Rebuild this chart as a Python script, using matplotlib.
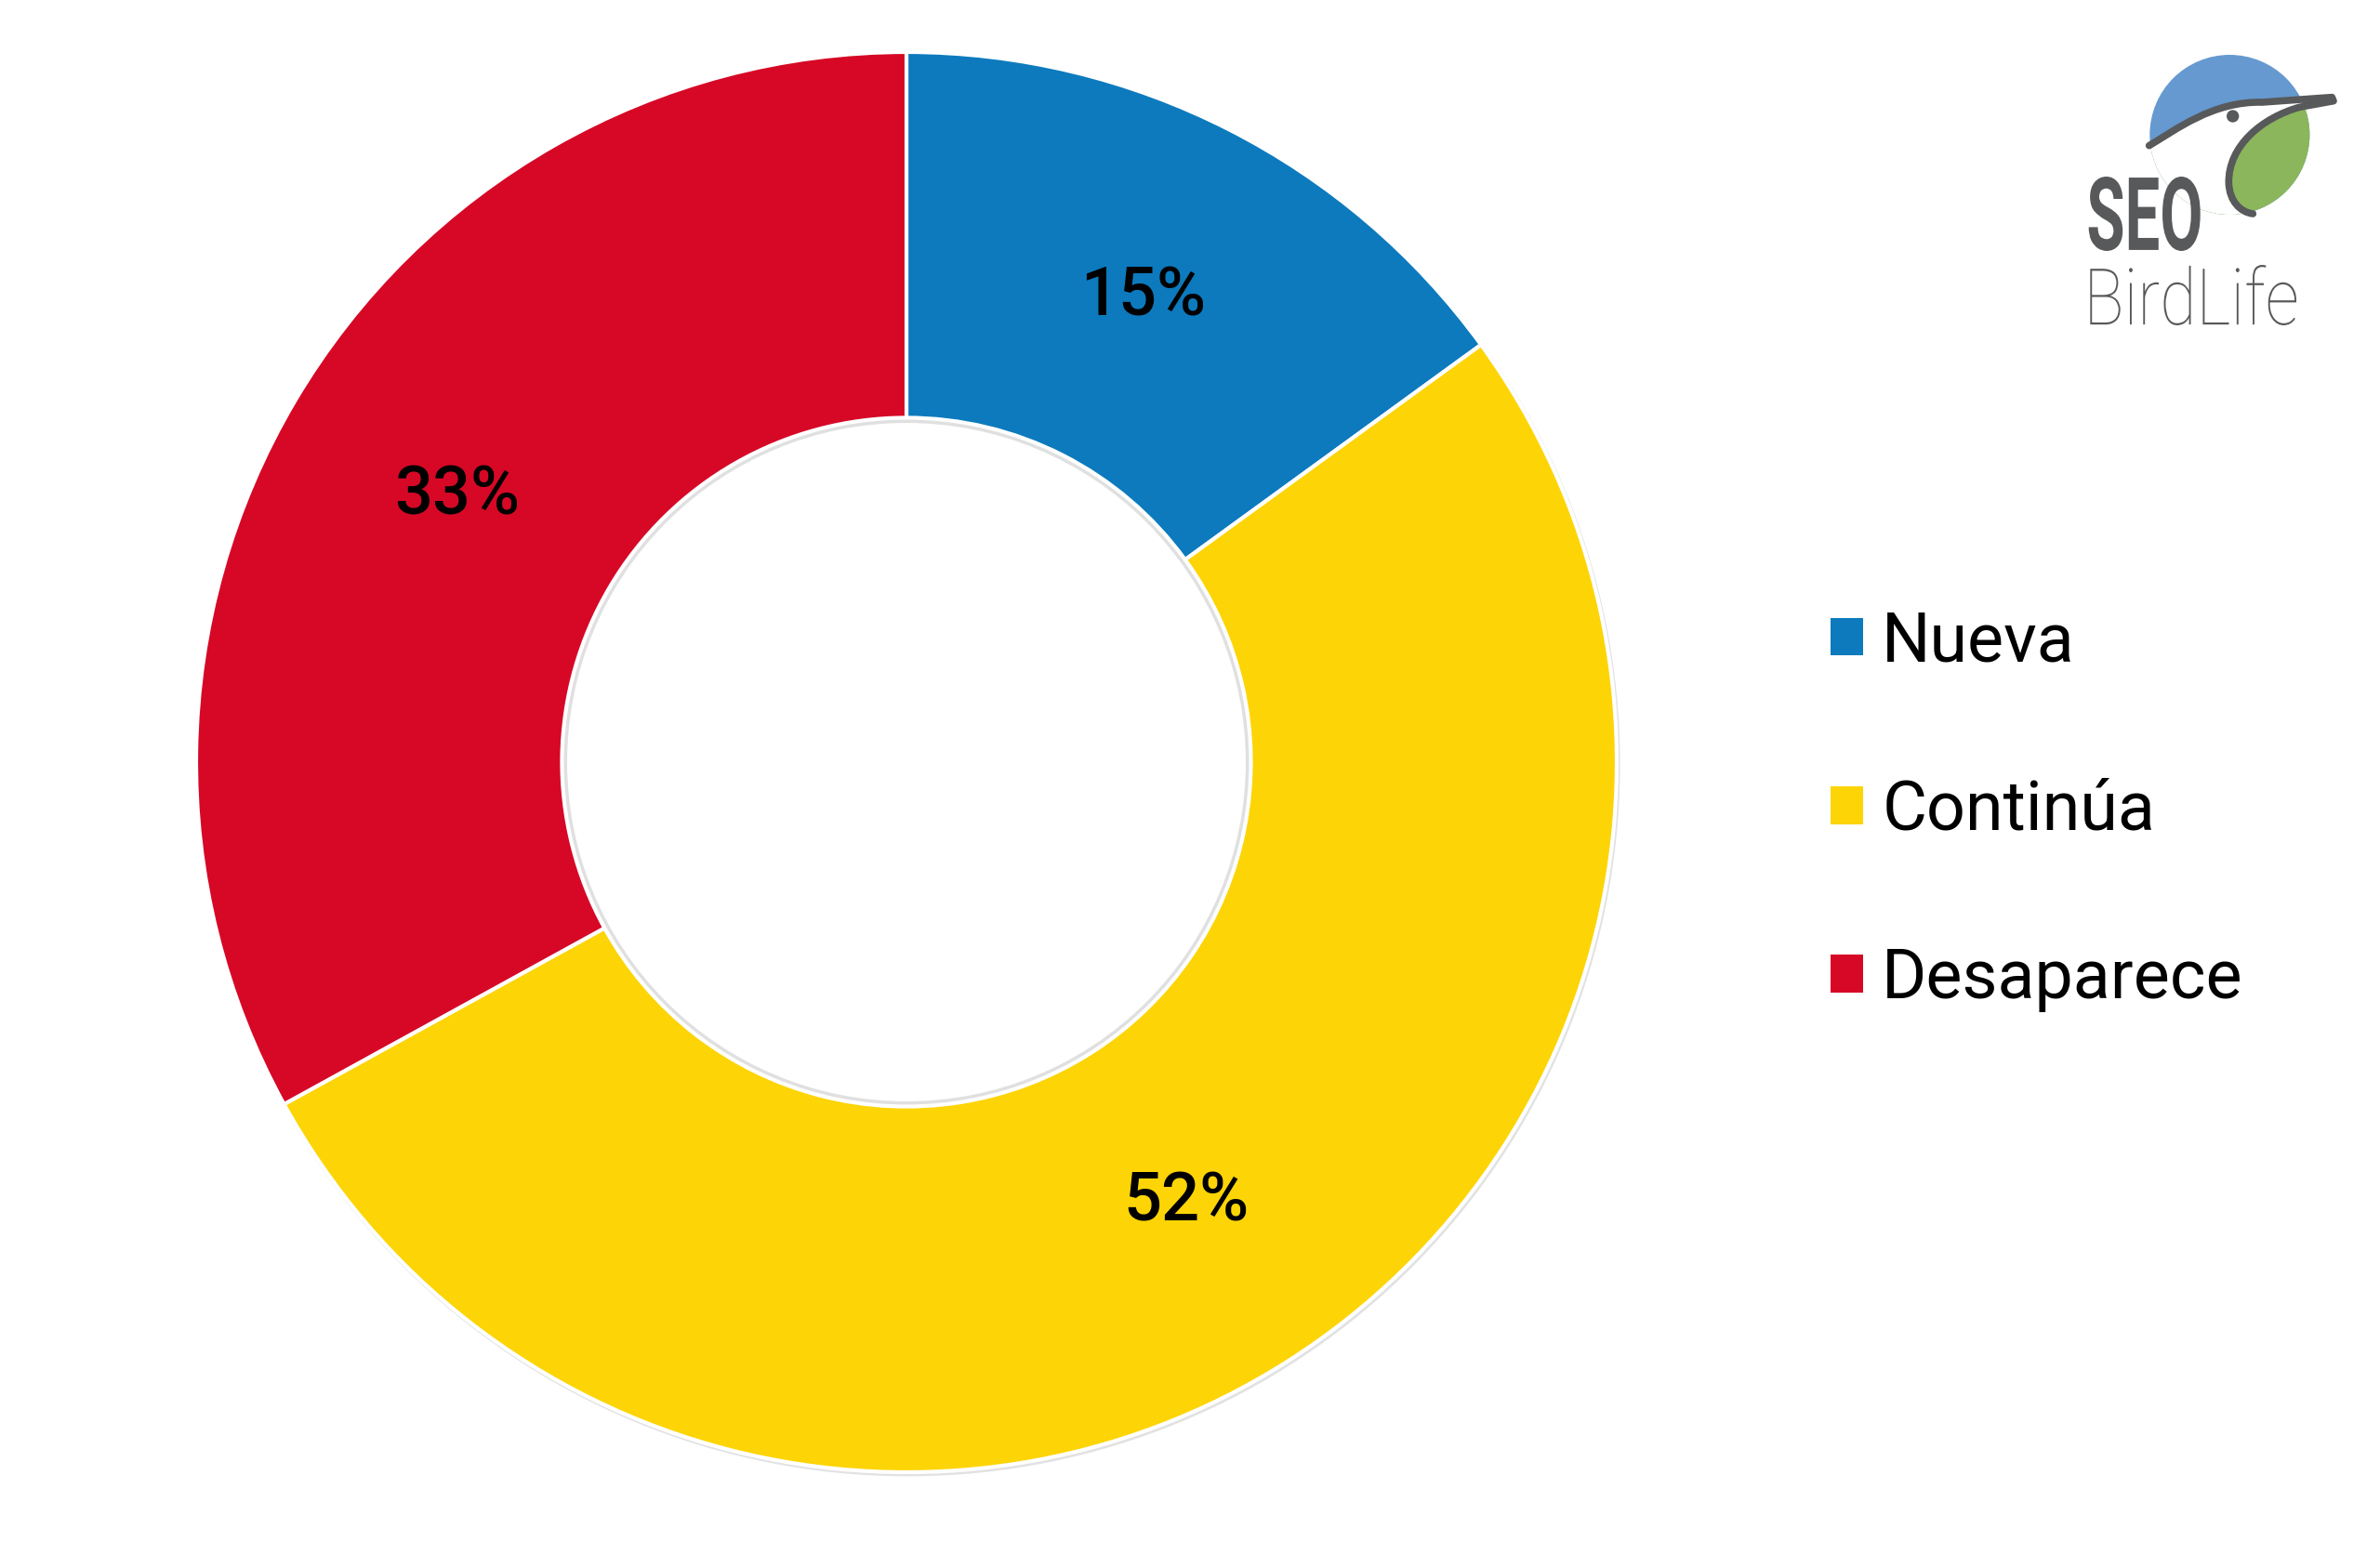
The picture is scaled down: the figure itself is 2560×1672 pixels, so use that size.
import matplotlib
matplotlib.use("Agg")
import matplotlib.pyplot as plt
from matplotlib.patches import Circle, Polygon, PathPatch, Patch
from matplotlib.path import Path
from matplotlib.textpath import TextPath
from matplotlib.font_manager import FontProperties
from matplotlib.transforms import Affine2D

# ---------------- data ----------------
categories = ["Nueva", "Continúa", "Desaparece"]
values = [15, 52, 33]
colors = ["#0c7abd", "#fdd405", "#d60826"]

plt.rcParams['font.family'] = ['Roboto', 'DejaVu Sans']

W, H = 2560, 1672
fig = plt.figure(figsize=(W / 100, H / 100), dpi=100)
fig.patch.set_facecolor("white")

# ---------------- donut ----------------
cx, cy, R = 975, 820, 764
m = 1.02
ax = fig.add_axes([(cx - R * m) / W, (H - cy - R * m) / H, 2 * R * m / W, 2 * R * m / H])
ax.set_xlim(-m, m)
ax.set_ylim(-m, m)
ax.axis("off")

inner = 0.485
# subtle shadow rings
ax.add_patch(Circle((0.002, -0.003), 1.0, facecolor="none", edgecolor="#e2e2e2", lw=3, zorder=0))
wedges, texts, autotexts = ax.pie(
    values, colors=colors, startangle=90, counterclock=False, radius=1,
    wedgeprops=dict(width=1 - inner, edgecolor="white", linewidth=3),
    autopct=lambda p: f"{p:.0f}%", pctdistance=0.735,
    textprops=dict(fontsize=52, color="black", fontweight="medium"))
ax.add_patch(Circle((0.0, 0.0), inner - 0.005, facecolor="none", edgecolor="#e0e0e0", lw=2.5, zorder=5))
ax.set_xlim(-m, m)
ax.set_ylim(-m, m)

# ---------------- legend ----------------
handles = [Patch(facecolor=c, edgecolor="none") for c in colors]
fig.legend(handles, categories, loc="center left",
           bbox_to_anchor=(1969 / W, 1 - 872 / H), bbox_transform=fig.transFigure,
           frameon=False, fontsize=53, handlelength=0.47, handleheight=0.47,
           handletextpad=0.28, labelspacing=1.5, borderpad=0, borderaxespad=0)

# ---------------- logo ----------------
lx0, ly0, lw_, lh_ = 2180, 30, 380, 350
lax = fig.add_axes([lx0 / W, (H - ly0 - lh_) / H, lw_ / W, lh_ / H])
lax.set_xlim(0, 1140)
lax.set_ylim(1050, 0)
lax.axis("off")

grey = "#58595b"
circ = Circle((655, 345), 258, facecolor="#6699d0", edgecolor="none")
lax.add_patch(circ)

MV, C4, LN, CL = Path.MOVETO, Path.CURVE4, Path.LINETO, Path.CLOSEPOLY
top_v = [(395, 380), (480, 330), (600, 236), (760, 240), (985, 224)]
top_c = [MV, C4, C4, C4, LN]
low_v = [(985, 224), (880, 256), (760, 290), (650, 380), (652, 500), (654, 560), (690, 595), (730, 600)]
low_c = [LN, LN, C4, C4, C4, C4, C4, C4]

lower = PathPatch(Path(top_v + [(1120, 224), (1120, 800), (300, 800), (300, 380), (395, 380)],
                       top_c + [LN, LN, LN, LN, CL]),
                  facecolor="#8bb65b", edgecolor="none")
lax.add_patch(lower)
lower.set_clip_path(circ)
head = PathPatch(Path(top_v + low_v[1:] + [(730, 800), (300, 800), (300, 380), (395, 380)],
                      top_c + low_c[1:] + [LN, LN, LN, CL]),
                 facecolor="white", edgecolor="none")
lax.add_patch(head)
head.set_clip_path(circ)

stroke_v = top_v + [(990, 236)] + low_v[1:]
stroke_c = top_c + [LN] + low_c[1:]
lax.add_patch(PathPatch(Path(stroke_v, stroke_c), facecolor="none", edgecolor=grey, lw=5.5,
                        capstyle="round", joinstyle="round"))
lax.add_patch(Circle((665, 285), 20, facecolor=grey, edgecolor="none"))


def fit_text(axl, s, fp, box, color):
    x0, x1, y0, y1 = box  # y0 top, y1 baseline (axis inverted)
    tp = TextPath((0, 0), s, size=100, prop=fp)
    ext = tp.get_extents()
    sx = (x1 - x0) / ext.width
    sy = (y1 - y0) / ext.height
    tr = Affine2D().translate(-ext.x0, -ext.y0).scale(sx, -sy).translate(x0, y1)
    axl.add_patch(PathPatch(tr.transform_path(tp), facecolor=color, edgecolor="none"))


fit_text(lax, "SEO", FontProperties(family="Roboto", weight="bold"), (200, 560, 480, 720), grey)
fit_text(lax, "BirdLife", FontProperties(family="Roboto", weight="light"), (205, 870, 765, 960), grey)

fig.savefig("out.png", dpi=100, facecolor="white")
